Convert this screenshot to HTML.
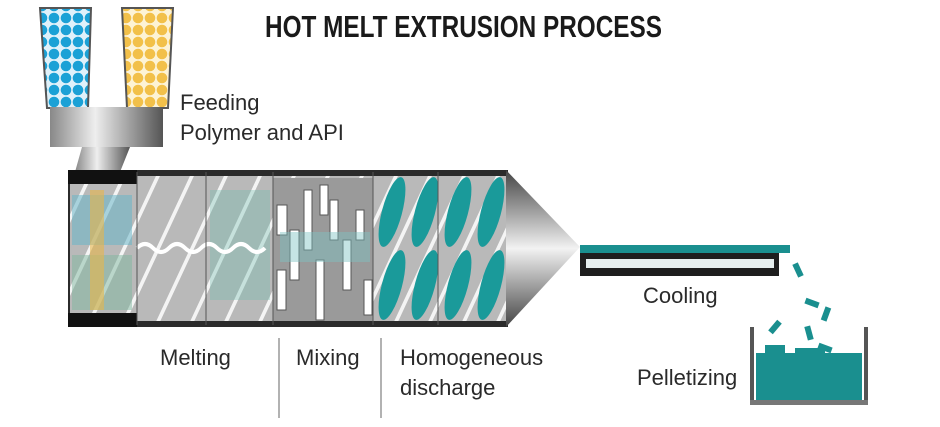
<!DOCTYPE html>
<html><head><meta charset="utf-8"><style>
html,body{margin:0;padding:0;background:#fff;width:940px;height:427px;overflow:hidden}
svg{display:block}
text{font-family:"Liberation Sans Narrow","Liberation Sans",sans-serif;fill:#2a2a2a}
</style></head><body>
<svg width="940" height="427" viewBox="0 0 940 427" xmlns="http://www.w3.org/2000/svg">
<defs>
<linearGradient id="metal" x1="0" y1="0" x2="0" y2="1">
<stop offset="0" stop-color="#555"/><stop offset="0.25" stop-color="#ccc"/><stop offset="0.5" stop-color="#eee"/><stop offset="0.75" stop-color="#bbb"/><stop offset="1" stop-color="#444"/></linearGradient>
<linearGradient id="blk" x1="0" y1="0" x2="1" y2="0">
<stop offset="0" stop-color="#888"/><stop offset="0.4" stop-color="#eee"/><stop offset="1" stop-color="#555"/></linearGradient>
<linearGradient id="cone" x1="0" y1="0" x2="0" y2="1">
<stop offset="0" stop-color="#444"/><stop offset="0.5" stop-color="#f2f2f2"/><stop offset="1" stop-color="#444"/></linearGradient>
<pattern id="blue" width="12" height="12" patternUnits="userSpaceOnUse"><rect width="12" height="12" fill="#dff1fa"/><circle cx="6" cy="6" r="5.3" fill="#1ba1d6"/></pattern>
<pattern id="yel" width="12" height="12" patternUnits="userSpaceOnUse"><rect width="12" height="12" fill="#fdf3d6"/><circle cx="6" cy="6" r="5.3" fill="#f2c04a"/></pattern>
<pattern id="flight" width="34" height="78" patternUnits="userSpaceOnUse" patternTransform="skewX(-25)"><rect width="34" height="78" fill="#b9b9b9"/><rect x="0" width="4" height="78" fill="#f4f4f4"/></pattern>
</defs>
<text x="265" y="37" font-size="31" font-weight="bold" textLength="397" lengthAdjust="spacingAndGlyphs" style="fill:#1a1a1a">HOT MELT EXTRUSION PROCESS</text>
<!-- hoppers -->
<polygon points="40,8 91,8 88,108 47,108" fill="url(#blue)" stroke="#555" stroke-width="2"/>
<polygon points="122,8 173,8 168,108 127,108" fill="url(#yel)" stroke="#555" stroke-width="2"/>
<rect x="50" y="107" width="113" height="40" fill="url(#blk)"/>
<polygon points="82,147 130,147 120,172 75,172" fill="url(#blk)"/>
<!-- barrel -->
<rect x="68" y="170" width="440" height="157" fill="#2b2b2b"/>
<rect x="70" y="176" width="436" height="145" fill="url(#flight)"/>
<rect x="70" y="176" width="67" height="145" fill="url(#flight)" opacity="0.6"/>
<rect x="72" y="195" width="60" height="50" fill="#69b6c9" opacity="0.55"/>
<rect x="72" y="255" width="60" height="55" fill="#7fb7a0" opacity="0.5"/>
<rect x="90" y="190" width="14" height="120" fill="#e8b64a" opacity="0.6"/>
<rect x="68" y="170" width="69" height="14" fill="#111"/>
<rect x="68" y="313" width="69" height="14" fill="#111"/>
<rect x="210" y="190" width="60" height="110" fill="#6fbdb0" opacity="0.35"/>
<path d="M137 248 q8 -8 16 0 t16 0 t16 0 t16 0 t16 0 t16 0 t16 0 t16 0" stroke="#fff" stroke-width="4" fill="none"/>
<!-- mixing -->
<rect x="273" y="178" width="100" height="143" fill="#9a9a9a"/>
<g fill="#fff" stroke="#555" stroke-width="1">
<rect x="277" y="205" width="10" height="30"/><rect x="290" y="230" width="9" height="50"/><rect x="304" y="190" width="8" height="60"/>
<rect x="277" y="270" width="9" height="40"/><rect x="316" y="260" width="8" height="60"/><rect x="330" y="200" width="8" height="40"/>
<rect x="343" y="240" width="8" height="50"/><rect x="356" y="210" width="8" height="30"/><rect x="364" y="280" width="8" height="35"/>
<rect x="320" y="185" width="8" height="30"/>
</g>
<rect x="280" y="232" width="90" height="30" fill="#7fc3c3" opacity="0.45"/>
<!-- homogeneous -->
<g fill="#1a9a9a">
<ellipse cx="392" cy="212" rx="10" ry="36" transform="rotate(15 392 212)"/><ellipse cx="425" cy="212" rx="10" ry="36" transform="rotate(15 425 212)"/>
<ellipse cx="458" cy="212" rx="10" ry="36" transform="rotate(15 458 212)"/><ellipse cx="491" cy="212" rx="10" ry="36" transform="rotate(15 491 212)"/>
<ellipse cx="392" cy="285" rx="10" ry="36" transform="rotate(15 392 285)"/><ellipse cx="425" cy="285" rx="10" ry="36" transform="rotate(15 425 285)"/>
<ellipse cx="458" cy="285" rx="10" ry="36" transform="rotate(15 458 285)"/><ellipse cx="491" cy="285" rx="10" ry="36" transform="rotate(15 491 285)"/>
</g>
<g stroke="#555" stroke-width="1"><line x1="137" y1="172" x2="137" y2="325"/><line x1="206" y1="172" x2="206" y2="325"/><line x1="273" y1="172" x2="273" y2="325"/><line x1="373" y1="172" x2="373" y2="325"/><line x1="438" y1="172" x2="438" y2="325"/></g>
<polygon points="506,170 580,247 506,327" fill="url(#cone)"/>
<!-- cooling -->
<rect x="580" y="245" width="210" height="8" fill="#1a8f8f"/>
<rect x="580" y="253" width="199" height="23" fill="#1e1e1e"/>
<rect x="586" y="259" width="188" height="9" fill="#e6eeee"/>
<text x="643" y="303" font-size="22">Cooling</text>
<!-- pellets -->
<g fill="#1a8f8f">
<rect x="795" y="263" width="6" height="14" transform="rotate(-25 798 270)"/>
<rect x="805" y="300" width="14" height="6" transform="rotate(20 812 303)"/>
<rect x="823" y="307" width="6" height="14" transform="rotate(20 826 314)"/>
<rect x="772" y="320" width="6" height="14" transform="rotate(40 775 327)"/>
<rect x="806" y="326" width="6" height="14" transform="rotate(-15 809 333)"/>
<rect x="818" y="345" width="14" height="6" transform="rotate(20 825 348)"/>
</g>
<rect x="750" y="327" width="4" height="78" fill="#555"/><rect x="864" y="327" width="4" height="78" fill="#555"/>
<rect x="750" y="400" width="118" height="5" fill="#777"/>
<rect x="756" y="353" width="106" height="47" fill="#1a8f8f"/>
<rect x="765" y="345" width="20" height="10" fill="#1a8f8f"/><rect x="795" y="348" width="30" height="8" fill="#1a8f8f"/>
<text x="637" y="385" font-size="22">Pelletizing</text>
<!-- labels -->
<text x="180" y="110" font-size="22">Feeding</text>
<text x="180" y="140" font-size="22">Polymer and API</text>
<text x="160" y="365" font-size="22">Melting</text>
<text x="296" y="365" font-size="22">Mixing</text>
<text x="400" y="365" font-size="22">Homogeneous</text>
<text x="400" y="395" font-size="22">discharge</text>
<line x1="279" y1="338" x2="279" y2="418" stroke="#666" stroke-width="1"/>
<line x1="381" y1="338" x2="381" y2="418" stroke="#666" stroke-width="1"/>
</svg>
</body></html>
